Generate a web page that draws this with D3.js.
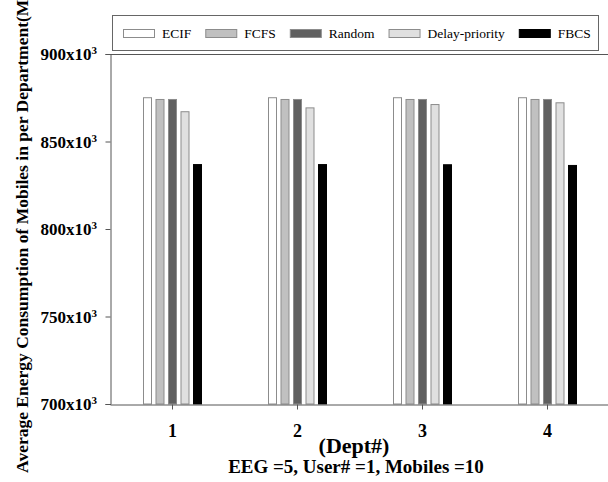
<!DOCTYPE html>
<html>
<head>
<meta charset="utf-8">
<script src="https://cdn.jsdelivr.net/npm/d3@7"></script>
<style>
  body { margin: 0; background: #fff; }
  svg { display: block; font-family: "Liberation Serif", "Times New Roman", serif; }
</style>
</head>
<body>
<script>
// data (values in x10^3 MJ)
var depts = ["1", "2", "3", "4"];
var series = ["ECIF", "FCFS", "Random", "Delay-priority", "FBCS"];
var ecif = [875.3, 875.3, 875.3, 875.3];
var fcfs = [874.3, 874.3, 874.3, 874.3];
var random = [874.3, 874.3, 874.3, 874.3];
var delayPriority = [867.3, 869.5, 871.4, 872.4];
var fbcs = [837.1, 837.1, 837.0, 836.6];
var yTicks = [700, 750, 800, 850, 900];

var values = [ecif, fcfs, random, delayPriority, fbcs];
var fills = ["#ffffff", "#c0c0c0", "#606060", "#e0e0e0", "#000000"];

var width = 608, height = 482;
var pLeft = 110, pRight = 610, pTop = 54, pBottom = 404;

var svg = d3.select("body").append("svg")
    .attr("width", width)
    .attr("height", height);

var x0 = d3.scaleBand().domain(depts).range([pLeft, pRight]);
var x1 = d3.scaleBand().domain(series).range([0, x0.bandwidth() / 2])
    .paddingInner(0.28).paddingOuter(0.14);
var y = d3.scaleLinear().domain([700, 900]).range([pBottom, pTop]);

// bars
var groups = svg.selectAll(".grp")
    .data(depts)
    .enter().append("g")
    .attr("class", "grp")
    .attr("transform", function (d) {
        return "translate(" + (x0(d) + x0.bandwidth() / 4) + ",0)";
    });

groups.selectAll("rect")
    .data(function (d, i) {
        return series.map(function (s, k) { return { s: s, k: k, v: values[k][i] }; });
    })
    .enter().append("rect")
    .attr("x", function (d) { return x1(d.s) + 0.5; })
    .attr("y", function (d) { return y(d.v) + 0.5; })
    .attr("width", x1.bandwidth() - 1)
    .attr("height", function (d) { return pBottom - y(d.v) - 0.5; })
    .attr("fill", function (d) { return fills[d.k]; })
    .attr("stroke", function (d) { return d.k == 4 ? "#000" : "#8c8c8c"; })
    .attr("stroke-width", 1);

// top border of plot
svg.append("line")
    .attr("x1", pLeft).attr("x2", width)
    .attr("y1", pTop + 0.5).attr("y2", pTop + 0.5)
    .attr("stroke", "#555");

// y axis
var yAxis = svg.append("g")
    .attr("transform", "translate(" + (pLeft + 0.5) + ",0)")
    .call(d3.axisLeft(y).tickValues(yTicks).tickSize(5).tickFormat(""));
yAxis.select(".domain").attr("stroke", "#555");
yAxis.selectAll(".tick line").attr("stroke", "#555");

var yl = svg.append("g").selectAll("text")
    .data(yTicks)
    .enter().append("text")
    .attr("x", 97)
    .attr("y", function (d) { return y(d) + 6; })
    .attr("text-anchor", "end")
    .attr("font-weight", "bold")
    .attr("font-size", "17px");
yl.append("tspan").text(function (d) { return d + "x10"; });
yl.append("tspan").attr("dy", -6).attr("font-size", "11px").text("3");

// x axis
var xAxis = svg.append("g")
    .attr("transform", "translate(0," + (pBottom + 0.5) + ")")
    .call(d3.axisBottom(x0).tickSize(5).tickSizeOuter(0).tickFormat(""));
xAxis.select(".domain").attr("stroke", "#555");
xAxis.selectAll(".tick line").attr("stroke", "#555");

svg.append("g").selectAll("text")
    .data(depts)
    .enter().append("text")
    .attr("x", function (d) { return x0(d) + x0.bandwidth() / 2; })
    .attr("y", 437)
    .attr("text-anchor", "middle")
    .attr("font-weight", "bold")
    .attr("font-size", "18px")
    .text(function (d) { return d; });

svg.append("text")
    .attr("x", 354).attr("y", 453)
    .attr("text-anchor", "middle")
    .attr("font-weight", "bold")
    .attr("font-size", "22px")
    .text("(Dept#)");

svg.append("text")
    .attr("x", 356).attr("y", 473)
    .attr("text-anchor", "middle")
    .attr("font-weight", "bold")
    .attr("font-size", "19px")
    .text("EEG =5, User# =1, Mobiles =10");

// y title
svg.append("text")
    .attr("transform", "translate(28," + ((pTop + pBottom) / 2) + ") rotate(-90)")
    .attr("text-anchor", "middle")
    .attr("font-weight", "bold")
    .attr("font-size", "17.5px")
    .text("Average Energy Consumption of Mobiles in per Department(MJ)");

// legend
var lg = svg.append("g");
lg.append("rect")
    .attr("x", 112.5).attr("y", 15.5)
    .attr("width", 486).attr("height", 35)
    .attr("fill", "#fff")
    .attr("stroke", "#666");

var lx = 123;
series.forEach(function (s, k) {
    lg.append("rect")
        .attr("x", lx + 0.5).attr("y", 29.5)
        .attr("width", 31).attr("height", 8)
        .attr("fill", fills[k])
        .attr("stroke", k == 4 ? "#000" : "#8c8c8c");
    var t = lg.append("text")
        .attr("x", lx + 39).attr("y", 38)
        .attr("font-size", "13.5px")
        .text(s);
    lx = lx + 39 + t.node().getComputedTextLength() + 14;
});
</script>
</body>
</html>
